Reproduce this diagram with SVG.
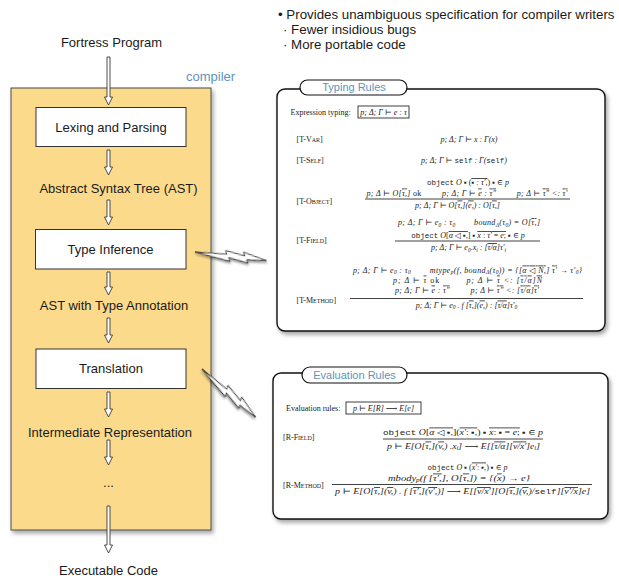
<svg xmlns="http://www.w3.org/2000/svg" width="619" height="580" viewBox="0 0 619 580">
<defs>
<filter id="sh" x="-10%" y="-10%" width="130%" height="130%">
<feDropShadow dx="2" dy="3" stdDeviation="2" flood-color="#000" flood-opacity="0.35"/>
</filter>
<filter id="shs" x="-20%" y="-40%" width="140%" height="180%">
<feDropShadow dx="1" dy="2" stdDeviation="1.2" flood-color="#000" flood-opacity="0.4"/>
</filter>
<polygon id="bolt" points="0,0 32,-2.5 30,-6 50,-3.5 48,-7 72,-2 52,0 54,3 34,0.5 36,4" fill="#fff" stroke="#111" stroke-width="0.8" stroke-linejoin="miter"/>
</defs>
<style>
.s{font-family:"Liberation Sans",Arial,Helvetica,sans-serif;font-size:13px;fill:#1a1a1a}
.n{font-size:13.3px}
.c{text-anchor:middle}
.blue{fill:#5f93bd}
.tab{font-family:"Liberation Sans",Arial,sans-serif;font-size:11px;fill:#5f93bd;text-anchor:middle}
.m{font-family:"Liberation Serif","DejaVu Serif",serif;font-size:8px;fill:#222}
.lb{font-family:"Liberation Serif","DejaVu Serif",serif;font-size:8px;fill:#222;font-variant:small-caps}
.tt{font-family:"Liberation Mono","DejaVu Sans Mono",monospace;font-style:normal;font-size:7.5px}
.i{font-style:italic}
.box{fill:#fff;stroke:#333;stroke-width:1}
.arr{fill:#fff;stroke:#3a3a3a;stroke-width:0.9}
.fl{stroke:#111;stroke-width:0.8}
.fb{fill:none;stroke:#111;stroke-width:0.8}
</style>

<g id="notes">
<text class="s n" x="278" y="18.5">• Provides unambiguous specification for compiler writers</text>
<text class="s n" x="283" y="33.5">· Fewer insidious bugs</text>
<text class="s n" x="283" y="48.5">· More portable code</text>
</g>

<g id="input">
<text class="s c" x="111.5" y="46.5">Fortress Program</text>
</g>

<g id="compiler">
<rect x="11" y="88" width="200" height="442" fill="#fcda8c" stroke="#4a4a4a" stroke-width="1" filter="url(#sh)"/>
<text class="s blue" x="186" y="80.5">compiler</text>
</g>

<g id="lexing">
<rect class="box" x="36" y="107.5" width="150" height="39"/>
<text class="s c" x="111" y="131.5">Lexing and Parsing</text>
</g>
<g id="ast">
<text class="s c" x="118.5" y="192.5">Abstract Syntax Tree (AST)</text>
</g>
<g id="typeinf">
<rect class="box" x="35.5" y="229.5" width="150.5" height="39.5"/>
<text class="s c" x="110.5" y="253.5">Type Inference</text>
</g>
<g id="astanno">
<text class="s c" x="114" y="309.5">AST with Type Annotation</text>
</g>
<g id="translation">
<rect class="box" x="36" y="349" width="150" height="39.5"/>
<text class="s c" x="111" y="373">Translation</text>
</g>
<g id="ir">
<text class="s c" x="110" y="436.5">Intermediate Representation</text>
</g>
<g id="dots">
<text class="s c" x="108.5" y="487">...</text>
</g>
<g id="output">
<text class="s c" x="108.5" y="574.5">Executable Code</text>
</g>

<g id="connectors">
<path class="arr" d="M107,57 V97 H104.5 L108.5,105 L112.5,97 H110 V57 Z"/>
<path class="arr" d="M107,150 V167 H104.5 L108.5,175 L112.5,167 H110 V150 Z"/>
<path class="arr" d="M107,200 V217 H104.5 L108.5,225 L112.5,217 H110 V200 Z"/>
<path class="arr" d="M107,272 V287 H104.5 L108.5,295 L112.5,287 H110 V272 Z"/>
<path class="arr" d="M107,318 V335 H104.5 L108.5,343 L112.5,335 H110 V318 Z"/>
<path class="arr" d="M107,392 V409 H104.5 L108.5,417 L112.5,409 H110 V392 Z"/>
<path class="arr" d="M107,440 V457 H104.5 L108.5,465 L112.5,457 H110 V440 Z"/>
<path class="arr" d="M107,506 V545 H104.5 L108.5,553 L112.5,545 H110 V506 Z"/>
<use href="#bolt" transform="translate(195,252) rotate(8.5)" filter="url(#shs)"/>
<use href="#bolt" transform="translate(202,369) rotate(43.6)" filter="url(#shs)"/>
</g>

<g id="typing-rules">
<rect x="277" y="89" width="328" height="242" rx="8" fill="#fff" stroke="#111" stroke-width="1.4" filter="url(#sh)"/>
<rect x="300" y="80" width="107" height="15" rx="7.5" fill="#fff" stroke="#111" stroke-width="1.2"/>
<text class="tab" x="354" y="91">Typing Rules</text>
<text class="m" x="290.5" y="115">Expression typing:</text>
<rect class="fb" x="358" y="106" width="51" height="12"/>
<text class="m i c" x="383.5" y="115">p; Δ; Γ ⊢ e : τ</text>
<text class="lb" x="296.5" y="142">[T-Var]</text>
<text class="m i c" x="469" y="142">p; Δ; Γ ⊢ x : Γ(x)</text>
<text class="lb" x="296.5" y="163">[T-Self]</text>
<text class="m i c" x="464" y="163">p; Δ; Γ ⊢ <tspan class="tt">self</tspan> : Γ(<tspan class="tt">self</tspan>)</text>
<text class="lb" x="296.5" y="204">[T-Object]</text>
<text class="m c" x="468" y="185"><tspan class="tt">object</tspan> <tspan class="i">O</tspan> ▪ (<tspan text-decoration="overline"><tspan class="i">▪ : τ′,</tspan></tspan>) ▪ ∈ <tspan class="i">p</tspan></text>
<text class="m i c" x="467" y="195.5" textLength="201" lengthAdjust="spacing">p; Δ ⊢ O[<tspan text-decoration="overline">τ,</tspan>] <tspan font-style="normal">ok</tspan>&#160;&#160;&#160;&#160;&#160;&#160;&#160;&#160;&#160;p; Δ; Γ ⊢ <tspan text-decoration="overline">e</tspan> : <tspan text-decoration="overline">τ″</tspan>&#160;&#160;&#160;&#160;&#160;&#160;&#160;&#160;&#160;p; Δ ⊢ <tspan text-decoration="overline">τ″</tspan> &lt;: <tspan text-decoration="overline">τ′</tspan></text>
<line class="fl" x1="365" y1="199" x2="570" y2="199"/>
<text class="m i c" x="457.5" y="207.5">p; Δ; Γ ⊢ O[<tspan text-decoration="overline">τ,</tspan>](<tspan text-decoration="overline">e,</tspan>) : O[<tspan text-decoration="overline">τ,</tspan>]</text>
<text class="lb" x="296.5" y="243">[T-Field]</text>
<text class="m i c" x="469" y="225" textLength="142" lengthAdjust="spacing">p; Δ; Γ ⊢ e<tspan font-size="5.5" dy="1.5">0</tspan><tspan dy="-1.5"> : τ</tspan><tspan font-size="5.5" dy="1.5">0</tspan><tspan dy="-1.5">&#160;&#160;&#160;&#160;&#160;&#160;&#160;&#160;bound</tspan><tspan font-size="5.5" dy="1.5">Δ</tspan><tspan dy="-1.5">(τ</tspan><tspan font-size="5.5" dy="1.5">0</tspan><tspan dy="-1.5">) = O[</tspan><tspan text-decoration="overline">τ,</tspan>]</text>
<text class="m c" x="468" y="238"><tspan class="tt">object</tspan> <tspan class="i">O</tspan>[<tspan text-decoration="overline"><tspan class="i">α</tspan> ◁ ▪,</tspan>] ▪ <tspan text-decoration="overline"><tspan class="i">x</tspan> : <tspan class="i">τ′</tspan> = <tspan class="i">e</tspan>;</tspan> ▪ ∈ <tspan class="i">p</tspan></text>
<line class="fl" x1="395" y1="241" x2="540" y2="241"/>
<text class="m i c" x="468.5" y="250">p; Δ; Γ ⊢ e<tspan font-size="5.5" dy="1.5">0</tspan><tspan dy="-1.5">.x</tspan><tspan font-size="5.5" dy="1.5">i</tspan><tspan dy="-1.5"> : [</tspan><tspan text-decoration="overline">τ/α</tspan>]τ′<tspan font-size="5.5" dy="1.5">i</tspan></text>
<text class="lb" x="296.5" y="302.5">[T-Method]</text>
<text class="m i c" x="467.5" y="272.5" textLength="229" lengthAdjust="spacing">p; Δ; Γ ⊢ e<tspan font-size="5.5" dy="1.5">0</tspan><tspan dy="-1.5"> : τ</tspan><tspan font-size="5.5" dy="1.5">0</tspan><tspan dy="-1.5">&#160;&#160;&#160;&#160;&#160;&#160;&#160;&#160;mtype</tspan><tspan font-size="5.5" dy="1.5">p</tspan><tspan dy="-1.5">(f, bound</tspan><tspan font-size="5.5" dy="1.5">Δ</tspan><tspan dy="-1.5">(τ</tspan><tspan font-size="5.5" dy="1.5">0</tspan><tspan dy="-1.5">)) = {[</tspan><tspan text-decoration="overline">α ◁ N,</tspan>] <tspan text-decoration="overline">τ′</tspan> → τ′<tspan font-size="5.5" dy="1.5">0</tspan><tspan dy="-1.5">}</tspan></text>
<text class="m i c" x="467.5" y="282.5" textLength="149" lengthAdjust="spacing">p; Δ ⊢ <tspan text-decoration="overline">τ</tspan> <tspan font-style="normal">ok</tspan>&#160;&#160;&#160;&#160;&#160;&#160;&#160;&#160;&#160;p; Δ ⊢ <tspan text-decoration="overline">τ</tspan> &lt;: [<tspan text-decoration="overline">τ/α</tspan>]<tspan text-decoration="overline">N</tspan></text>
<text class="m i c" x="467" y="292.5" textLength="144" lengthAdjust="spacing">p; Δ; Γ ⊢ <tspan text-decoration="overline">e</tspan> : <tspan text-decoration="overline">τ″</tspan>&#160;&#160;&#160;&#160;&#160;&#160;&#160;&#160;&#160;p; Δ ⊢ <tspan text-decoration="overline">τ″</tspan> &lt;: [<tspan text-decoration="overline">τ/α</tspan>]<tspan text-decoration="overline">τ′</tspan></text>
<line class="fl" x1="350" y1="298.5" x2="583" y2="298.5"/>
<text class="m i c" x="466.5" y="307.5">p; Δ; Γ ⊢ e<tspan font-size="5.5" dy="1.5">0</tspan><tspan dy="-1.5"> . f [</tspan><tspan text-decoration="overline">τ,</tspan>](<tspan text-decoration="overline">e,</tspan>) : [<tspan text-decoration="overline">τ/α</tspan>]τ′<tspan font-size="5.5" dy="1.5">0</tspan></text>
</g>

<g id="evaluation-rules">
<rect x="273" y="373" width="335" height="146" rx="8" fill="#fff" stroke="#111" stroke-width="1.4" filter="url(#sh)"/>
<rect x="302" y="367" width="105" height="16" rx="8" fill="#fff" stroke="#111" stroke-width="1.2"/>
<text class="tab" x="354.5" y="379">Evaluation Rules</text>
<text class="m" x="286" y="411">Evaluation rules:</text>
<rect class="fb" x="346" y="402" width="75" height="12"/>
<text class="m i c" x="383.5" y="411">p ⊢ E[R] ⟶ E[e]</text>
<text class="lb" x="283" y="439.5">[R-Field]</text>
<text class="m c" x="463" y="434.5" textLength="160" lengthAdjust="spacingAndGlyphs"><tspan class="tt">object</tspan> <tspan class="i">O</tspan>[<tspan text-decoration="overline"><tspan class="i">α</tspan> ◁ ▪,</tspan>](<tspan text-decoration="overline"><tspan class="i">x′</tspan>: ▪,</tspan>) ▪ <tspan text-decoration="overline"><tspan class="i">x</tspan>: ▪ = <tspan class="i">e</tspan>;</tspan> ▪ ∈ <tspan class="i">p</tspan></text>
<line class="fl" x1="383" y1="439" x2="543" y2="439"/>
<text class="m i c" x="463.5" y="448.5" textLength="153" lengthAdjust="spacingAndGlyphs">p ⊢ E[O[<tspan text-decoration="overline">τ,</tspan>](<tspan text-decoration="overline">v,</tspan>) .x<tspan font-size="5.5" dy="1.5">i</tspan><tspan dy="-1.5">] ⟶ E[[</tspan><tspan text-decoration="overline">τ/α</tspan>][<tspan text-decoration="overline">v/x′</tspan>]e<tspan font-size="5.5" dy="1.5">i</tspan><tspan dy="-1.5">]</tspan></text>
<text class="lb" x="283" y="487.5">[R-Method]</text>
<text class="m c" x="467.5" y="469.5"><tspan class="tt">object</tspan> <tspan class="i">O</tspan> ▪ (<tspan text-decoration="overline"><tspan class="i">x′</tspan>: ▪,</tspan>) ▪ ∈ <tspan class="i">p</tspan></text>
<text class="m i c" x="459" y="480.5" textLength="142" lengthAdjust="spacingAndGlyphs">mbody<tspan font-size="5.5" dy="1.5">p</tspan><tspan dy="-1.5">(f [</tspan><tspan text-decoration="overline">τ′,</tspan>], O[<tspan text-decoration="overline">τ,</tspan>]) = {(<tspan text-decoration="overline">x</tspan>) → e}</text>
<line class="fl" x1="332" y1="484.5" x2="592" y2="484.5"/>
<text class="m i c" x="462.5" y="494" textLength="255" lengthAdjust="spacingAndGlyphs">p ⊢ E[O[<tspan text-decoration="overline">τ,</tspan>](<tspan text-decoration="overline">v,</tspan>) . f [<tspan text-decoration="overline">τ′,</tspan>](<tspan text-decoration="overline">v′,</tspan>)] ⟶ E[[<tspan text-decoration="overline">v/x′</tspan>][O[<tspan text-decoration="overline">τ,</tspan>](<tspan text-decoration="overline">v,</tspan>)/<tspan class="tt">self</tspan>][<tspan text-decoration="overline">v′/x</tspan>]e]</text>
</g>
</svg>
